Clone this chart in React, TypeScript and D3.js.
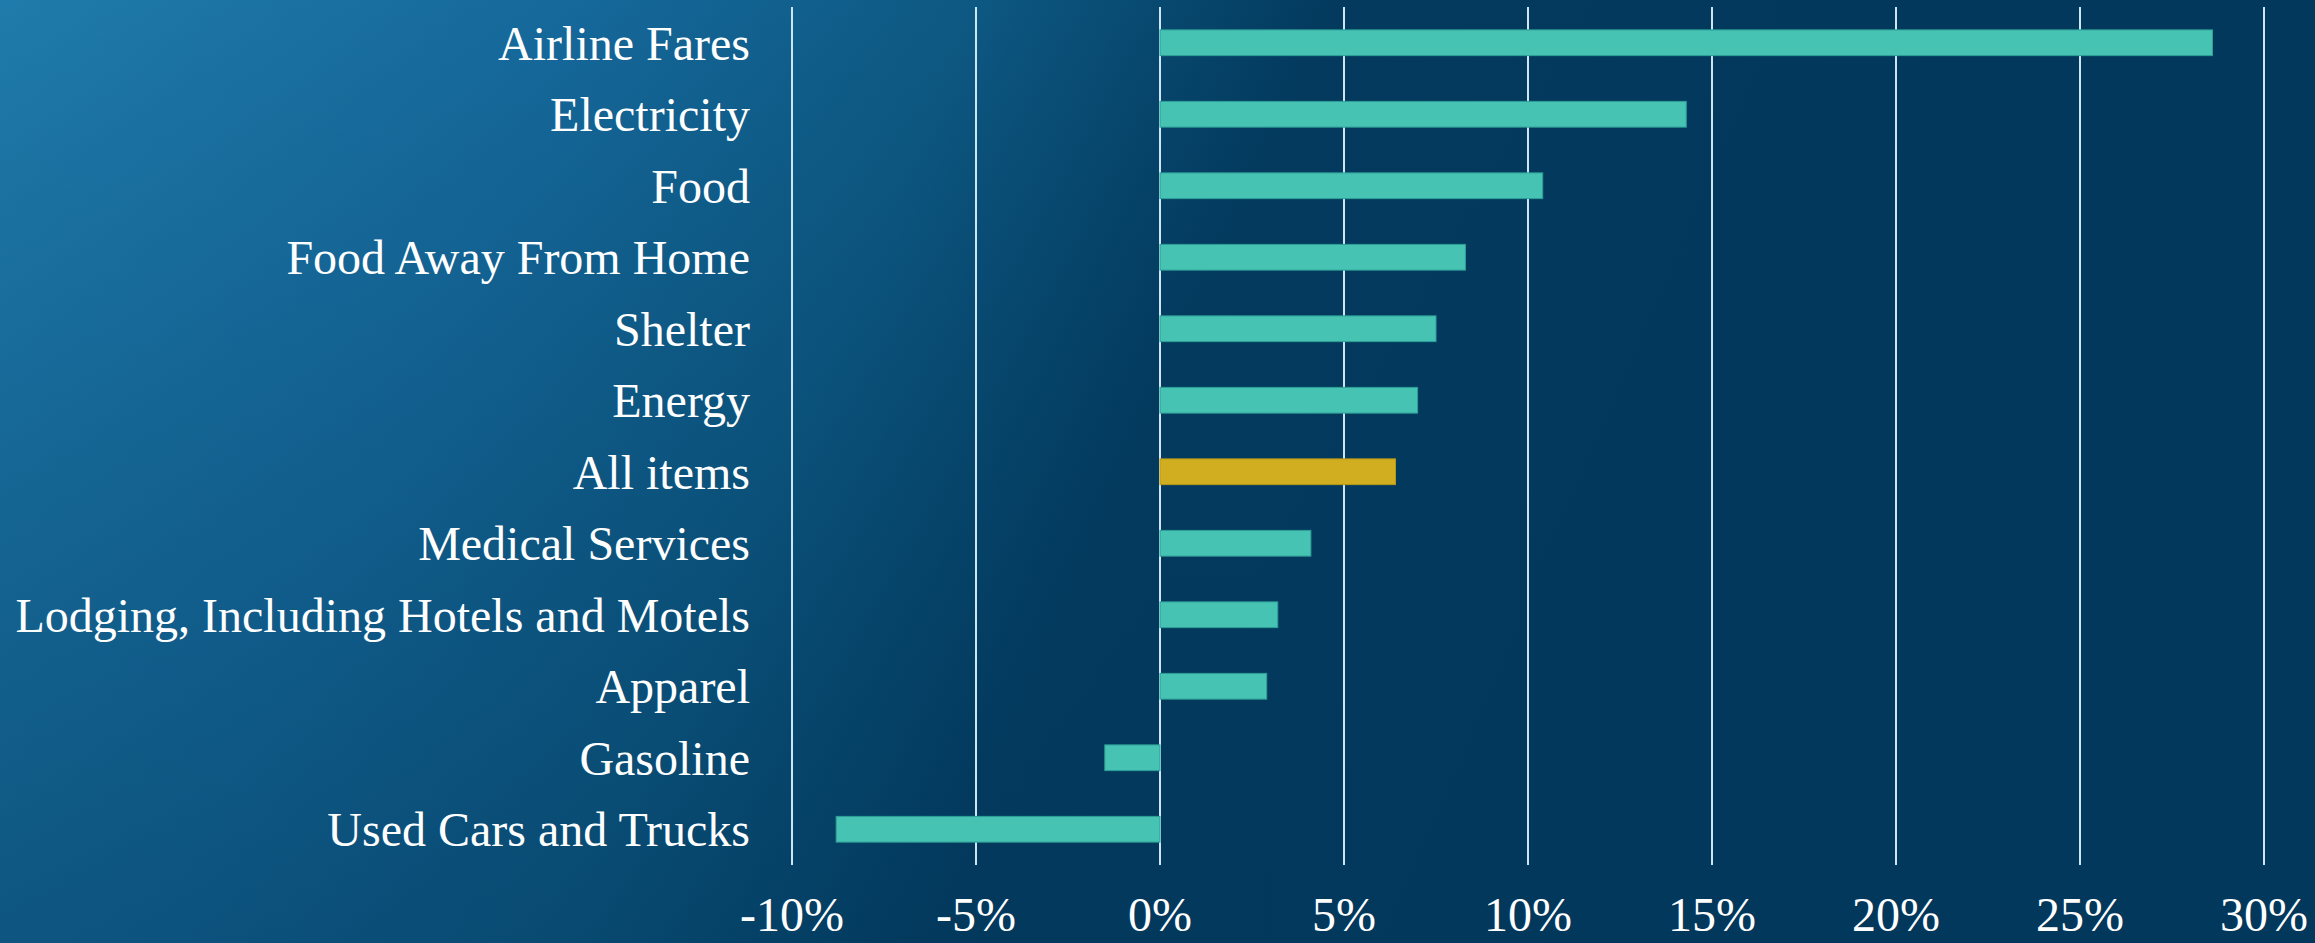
import React, { useEffect } from 'react';
import * as d3 from 'd3';

const categories = [
  'Airline Fares',
  'Electricity',
  'Food',
  'Food Away From Home',
  'Shelter',
  'Energy',
  'All items',
  'Medical Services',
  'Lodging, Including Hotels and Motels',
  'Apparel',
  'Gasoline',
  'Used Cars and Trucks',
];
const values = [28.6, 14.3, 10.4, 8.3, 7.5, 7.0, 6.4, 4.1, 3.2, 2.9, -1.5, -8.8];
const highlight = 'All items';
const xTicks = [-10, -5, 0, 5, 10, 15, 20, 25, 30];

const W = 2315;
const H = 943;

const App: React.FC = () => {
  useEffect(() => {
    document.body.style.margin = '0';
  }, []);

  const x = d3.scaleLinear().domain([-10, 30]).range([792, 2264]);
  const y = d3
    .scaleBand<string>()
    .domain(categories)
    .range([7, 865])
    .paddingInner(0.64)
    .paddingOuter(0.32);

  const font = '"Times New Roman", "Liberation Serif", serif';

  return (
    <svg width={W} height={H} style={{ display: 'block' }}>
      <defs>
        <linearGradient id="bg" gradientUnits="userSpaceOnUse" x1={0} y1={0} x2={1650} y2={720}>
          <stop offset="0" stopColor="#1f7bab" />
          <stop offset="0.3" stopColor="#15689a" />
          <stop offset="0.5" stopColor="#0d5882" />
          <stop offset="0.68" stopColor="#033a5e" />
          <stop offset="1" stopColor="#02385c" />
        </linearGradient>
        <linearGradient id="shade" x1="0" y1="0" x2="0" y2="1">
          <stop offset="0" stopColor="#02385c" stopOpacity={0} />
          <stop offset="1" stopColor="#02385c" stopOpacity={0.45} />
        </linearGradient>
      </defs>
      <rect width={W} height={H} fill="url(#bg)" />
      <rect width={W} height={H} fill="url(#shade)" />

      {/* grid */}
      {xTicks.map((t) => (
        <line
          key={t}
          x1={x(t)}
          x2={x(t)}
          y1={7}
          y2={865}
          stroke="#cde6f5"
          strokeWidth={2}
        />
      ))}

      {/* bars */}
      {categories.map((c, i) => {
        const v = values[i];
        return (
          <rect
            key={c}
            x={Math.min(x(0), x(v))}
            y={y(c)}
            width={Math.abs(x(v) - x(0))}
            height={y.bandwidth()}
            fill={c === highlight ? '#d1ae20' : '#46c3b3'}
            stroke={c === highlight ? '#b8971a' : '#2f9e97'}
            strokeWidth={1}
          />
        );
      })}

      {/* category labels */}
      {categories.map((c) => (
        <text
          key={c}
          x={750}
          y={(y(c) ?? 0) + y.bandwidth() / 2}
          dy="0.35em"
          textAnchor="end"
          fill="#ffffff"
          fontFamily={font}
          fontSize={48}
        >
          {c}
        </text>
      ))}

      {/* tick labels */}
      {xTicks.map((t) => (
        <text
          key={t}
          x={x(t)}
          y={931}
          textAnchor="middle"
          fill="#ffffff"
          fontFamily={font}
          fontSize={48}
        >
          {`${t}%`}
        </text>
      ))}
    </svg>
  );
};

export default App;
